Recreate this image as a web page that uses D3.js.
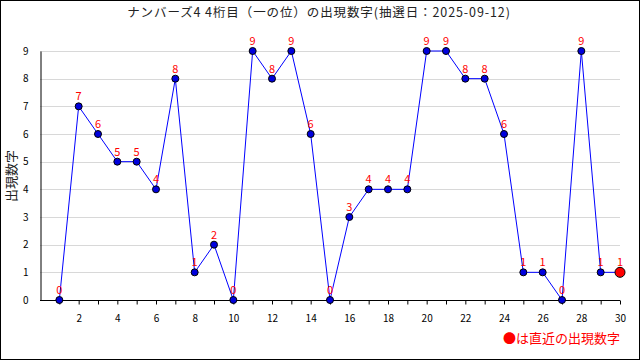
<!DOCTYPE html>
<html>
<head>
<meta charset="utf-8">
<script src="https://cdn.jsdelivr.net/npm/d3@7"></script>
<style>
  body { margin: 0; background: #fff; }
  text { font-family: "Noto Sans CJK JP", "DejaVu Sans", sans-serif; }
</style>
</head>
<body>
<div id="chartContainer"></div>
<script>
var width = 640, height = 360;
var margin = { top: 51, right: 20, bottom: 60, left: 40 };

var titleText = "ナンバーズ4 4桁目（一の位）の出現数字(抽選日：2025-09-12)";
var yLabelText = "出現数字";
var legendText = "●は直近の出現数字";

// draw number (1..30) and digit drawn
var draws = d3.range(1, 31);
var digits = [0, 7, 6, 5, 5, 4, 8, 1, 2, 0, 9, 8, 9, 6, 0, 3, 4, 4, 4, 9, 9, 8, 8, 6, 1, 1, 0, 9, 1, 1];
var yTicks = d3.range(0, 10);

var data = draws.map(function (d, i) { return { n: d, v: digits[i] }; });

const svg = d3.select("#chartContainer")
    .append("svg")
    .attr("width", width)
    .attr("height", height);

// outer border
svg.append("rect")
    .attr("x", 0.5).attr("y", 0.5)
    .attr("width", width - 1).attr("height", height - 1)
    .attr("fill", "#fff").attr("stroke", "#000");

const x = d3.scaleLinear().domain([0, 30]).range([margin.left, width - margin.right]);
const y = d3.scaleLinear().domain([0, 9]).range([height - margin.bottom, margin.top]);

// grid
svg.append("g")
    .selectAll("line")
    .data(yTicks.filter(function (d) { return d > 0; }))
    .join("line")
    .attr("x1", x(0)).attr("x2", x(30))
    .attr("y1", function (d) { return Math.round(y(d)) + 0.5; })
    .attr("y2", function (d) { return Math.round(y(d)) + 0.5; })
    .attr("stroke", "#d8d8d8");

// title
svg.append("text")
    .attr("x", width / 2 - 1).attr("y", 17)
    .attr("text-anchor", "middle")
    .attr("font-size", 12.5)
    .attr("letter-spacing", 0.9)
    .attr("fill", "#222")
    .text(titleText);

// y label
svg.append("text")
    .attr("transform", "translate(10," + 176 + ") rotate(-90)")
    .attr("text-anchor", "middle")
    .attr("dominant-baseline", "central")
    .attr("font-size", 13)
    .attr("fill", "#222")
    .text(yLabelText);

// x axis: ticks every integer, labels on even numbers
const xAxis = d3.axisBottom(x)
    .tickValues(d3.range(1, 31))
    .tickSize(4)
    .tickSizeOuter(0)
    .tickFormat(function (d) { return d % 2 === 0 ? d : ""; });
const gx = svg.append("g")
    .attr("transform", "translate(0," + (Math.round(y(0)) + 0.5) + ")")
    .call(xAxis);
gx.select(".domain").attr("d", "M" + x(0) + ",0H" + x(30)).attr("stroke", "#000");
gx.selectAll(".tick line").attr("stroke", "#000");
gx.selectAll(".tick text")
    .attr("y", 14)
    .attr("font-size", 10)
    .attr("fill", "#000")
    .attr("font-family", "DejaVu Sans, sans-serif");

// y axis
const yAxis = d3.axisLeft(y).tickValues(yTicks).tickSize(0).tickPadding(12);
const gy = svg.append("g")
    .attr("transform", "translate(" + (Math.round(x(0)) + 0.5) + ",0)")
    .call(yAxis);
gy.select(".domain").attr("stroke", "#000");
gy.selectAll(".tick text")
    .attr("font-size", 10)
    .attr("fill", "#000")
    .attr("font-family", "DejaVu Sans, sans-serif");

// line
svg.append("path")
    .datum(data)
    .attr("fill", "none")
    .attr("stroke", "#0000ff")
    .attr("stroke-width", 1)
    .attr("d", d3.line()
        .x(function (d) { return x(d.n); })
        .y(function (d) { return y(d.v); }));

// points
svg.append("g")
    .selectAll("circle")
    .data(data)
    .join("circle")
    .attr("cx", function (d) { return x(d.n); })
    .attr("cy", function (d) { return y(d.v); })
    .attr("r", function (d, i) { return i === data.length - 1 ? 5 : 3.5; })
    .attr("fill", function (d, i) { return i === data.length - 1 ? "#ff0000" : "#0000dd"; })
    .attr("stroke", "#000")
    .attr("stroke-width", 1);

// value labels
svg.append("g")
    .selectAll("text")
    .data(data)
    .join("text")
    .attr("x", function (d) { return x(d.n); })
    .attr("y", function (d) { return y(d.v) - 6; })
    .attr("text-anchor", "middle")
    .attr("font-size", 11)
    .attr("fill", "#ff0000")
    .attr("font-family", "DejaVu Sans, sans-serif")
    .text(function (d) { return d.v; });

// legend
svg.append("text")
    .attr("x", width - margin.right).attr("y", 343)
    .attr("text-anchor", "end")
    .attr("font-size", 13)
    .attr("fill", "#ff0000")
    .text(legendText);
</script>
</body>
</html>
